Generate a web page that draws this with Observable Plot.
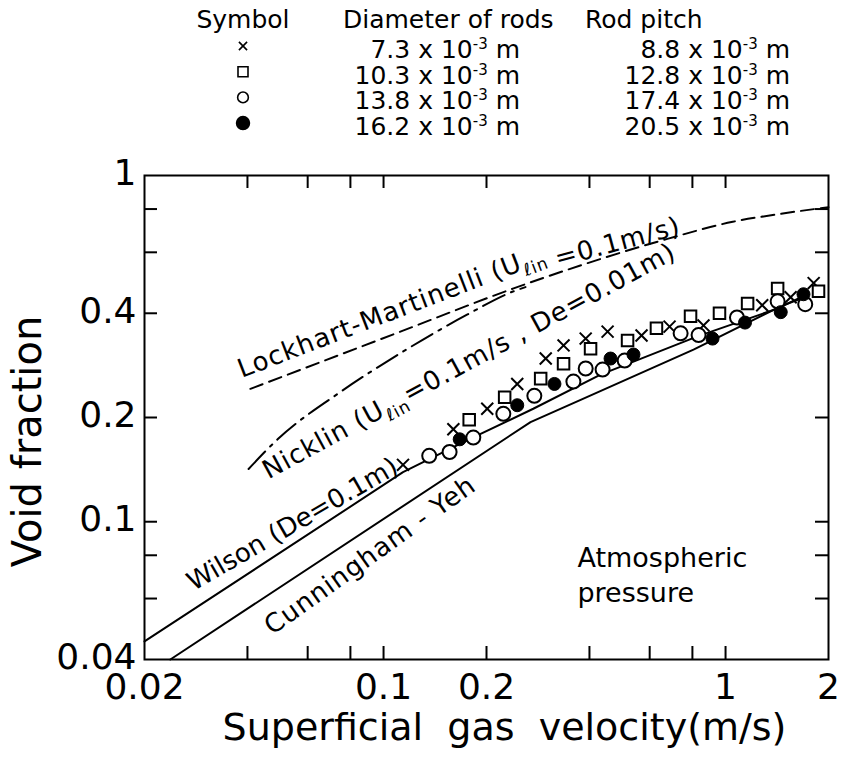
<!DOCTYPE html>
<html>
<head>
<meta charset="utf-8">
<script src="https://cdn.jsdelivr.net/npm/d3@7"></script>
<script src="https://cdn.jsdelivr.net/npm/@observablehq/plot@0.6"></script>
<style>
  body { margin: 0; background: #fff; font-family: "DejaVu Sans", sans-serif; }
  svg { display: block; }
</style>
</head>
<body>
<div id="chart"></div>
<script>
// ---------- data ----------
const xTickLabels = [0.02, 0.1, 0.2, 1, 2];
const xTickMarks = [0.04, 0.06, 0.08, 0.1, 0.2, 0.4, 0.6, 0.8, 1];
const yTickLabels = [0.04, 0.1, 0.2, 0.4, 1];
const yTickMarks = [0.06, 0.08, 0.1, 0.2, 0.4, 0.6, 0.8];

const legendHeaders = ["Symbol", "Diameter of rods", "Rod pitch"];
const rodDiameters = ["7.3", "10.3", "13.8", "16.2"];
const rodPitches = ["8.8", "12.8", "17.4", "20.5"];

// measured points [gas velocity m/s, void fraction]
const rods73 = [[0.114,0.146],[0.160,0.185],[0.201,0.212],[0.246,0.250],[0.298,0.296],[0.336,0.323],
  [0.390,0.338],[0.452,0.354],[0.568,0.345],[0.686,0.366],[0.862,0.369],[1.28,0.422],[1.55,0.445],[1.81,0.489]];
const rods103 = [[0.178,0.197],[0.226,0.229],[0.288,0.259],[0.336,0.286],[0.403,0.316],[0.517,0.334],
  [0.628,0.362],[0.790,0.392],[0.960,0.400],[1.16,0.427],[1.42,0.472],[1.87,0.463]];
const rods138 = [[0.136,0.155],[0.156,0.159],[0.183,0.175],[0.224,0.205],[0.276,0.231],[0.359,0.254],
  [0.390,0.277],[0.437,0.275],[0.507,0.292],[0.739,0.350],[0.834,0.346],[1.08,0.389],[1.42,0.433],[1.71,0.425]];
const rods162 = [[0.167,0.173],[0.246,0.217],[0.316,0.250],[0.461,0.296],[0.538,0.304],[0.916,0.338],
  [1.14,0.376],[1.45,0.403],[1.69,0.454]];

// correlations
const wilson = [[0.02,0.0451],[0.114,0.139],[0.176,0.172],[0.274,0.212],[0.431,0.266],[0.828,0.343],[1.42,0.413],[1.7,0.45]];
const cunninghamYeh = [[0.0238,0.04],[0.269,0.194],[0.377,0.225],[0.806,0.314],[1.45,0.419],[1.7,0.445]];
const lockhartMartinelli = [[0.0408,0.242],[0.112,0.354],[0.24,0.472],[0.431,0.574],[0.676,0.656],[1.05,0.735],[1.45,0.775],[2,0.81]];
const nicklin = [[0.0403,0.142],[0.049,0.173],[0.0748,0.237],[0.114,0.310],[0.176,0.397],[0.24,0.463],[0.26,0.476]];

const curveLabelTexts = ["Lockhart-Martinelli (U|ℓin|", "=0.1m/s)", "Nicklin (U|ℓin|=0.1m/s , De=0.01m)", "Wilson (De=0.1m)", "Cunningham - Yeh"];
const curveLabelX = [0.0385, 0.3226, 0.0461, 0.0278, 0.0473];
const curveLabelY = [0.26, 0.5438, 0.1324, 0.063, 0.0469];
const curveLabelAngle = [-21, -15, -28.5, -30, -35.5];

const noteLines = ["Atmospheric", "pressure"];
const noteX = [0.369, 0.369];
const noteY = [0.0786, 0.0622];

// ---------- legend ----------
const chart = document.getElementById("chart");
const leg = d3.create("svg").attr("width", 845).attr("height", 160)
  .style("font-family", "DejaVu Sans").style("font-size", "25px");
const headX = [243, 343, 585], headAnchor = ["middle", "start", "start"];
legendHeaders.forEach((h, i) => {
  leg.append("text").attr("x", headX[i]).attr("y", 28).attr("text-anchor", headAnchor[i]).text(h);
});
const symList = [d3.symbolTimes, d3.symbolSquare, d3.symbolCircle, d3.symbolCircle];
const symSize = [45, 100, 90, 130];
rodDiameters.forEach((d, i) => {
  const by = 58 + i * 25.7;
  leg.append("path").attr("transform", `translate(243,${by - 12})`)
    .attr("d", d3.symbol(symList[i], symSize[i])())
    .attr("fill", i === 3 ? "black" : "none").attr("stroke", "black").attr("stroke-width", 1.6);
  [[d, 520], [rodPitches[i], 790]].forEach(([v, x]) => {
    const t = leg.append("text").attr("x", x).attr("y", by).attr("text-anchor", "end");
    t.append("tspan").text(`${v} x 10`);
    t.append("tspan").attr("dy", -9).attr("font-size", "15px").text("-3");
    t.append("tspan").attr("dy", 9).text(" m");
  });
});
chart.appendChild(leg.node());

// ---------- plot ----------
const W = 845, H = 602, mT = 15, mB = 103, mL = 144, mR = 17;
const frameH = H - mT - mB, frameW = W - mL - mR, tickLen = 13;
const labels = curveLabelTexts.map((t, i) => ({t, x: curveLabelX[i], y: curveLabelY[i], a: curveLabelAngle[i]}));
const notes = noteLines.map((t, i) => ({t, x: noteX[i], y: noteY[i]}));
const px = d => d[0], py = d => d[1];

const plot = Plot.plot({
  width: W, height: H,
  marginTop: mT, marginBottom: mB, marginLeft: mL, marginRight: mR,
  style: {fontFamily: "DejaVu Sans", background: "white", color: "black", overflow: "visible"},
  x: {type: "log", domain: [0.02, 2], label: null},
  y: {type: "log", domain: [0.04, 1], label: null},
  marks: [
    Plot.tickX(xTickMarks, {x: d => d, insetTop: frameH - tickLen, strokeWidth: 2}),
    Plot.tickX(xTickMarks, {x: d => d, insetBottom: frameH - tickLen, strokeWidth: 2}),
    Plot.tickY(yTickMarks, {y: d => d, insetRight: frameW - tickLen, strokeWidth: 2}),
    Plot.tickY(yTickMarks, {y: d => d, insetLeft: frameW - tickLen, strokeWidth: 2}),
    Plot.frame({stroke: "black", strokeWidth: 2}),
    Plot.axisX(xTickLabels, {tickSize: 0, tickPadding: 14, fontSize: 36, tickFormat: d => String(d), label: null}),
    Plot.axisY(yTickLabels, {tickSize: 0, tickPadding: 8, dy: -2, fontSize: 36, tickFormat: d => String(d), label: null}),
    Plot.text(["Superficial\u00a0\u00a0gas\u00a0\u00a0velocity(m/s)"], {text: d => d, frameAnchor: "bottom", dy: 68, dx: 18, fontSize: 38, textAnchor: "middle", lineAnchor: "middle"}),
    Plot.text(["Void fraction"], {text: d => d, frameAnchor: "left", rotate: -90, dx: -116, dy: 24, fontSize: 40, textAnchor: "middle", lineAnchor: "middle"}),
    Plot.line(wilson, {x: px, y: py, stroke: "black", strokeWidth: 2}),
    Plot.line(cunninghamYeh, {x: px, y: py, stroke: "black", strokeWidth: 2}),
    Plot.line(lockhartMartinelli, {x: px, y: py, stroke: "black", strokeWidth: 2, strokeDasharray: "13,7", curve: "monotone-x"}),
    Plot.line(nicklin, {x: px, y: py, stroke: "black", strokeWidth: 2, strokeDasharray: "24,7,3,7", curve: "monotone-x"}),
    Plot.dot(rods73, {x: px, y: py, symbol: "times", r: 5.5, stroke: "black", strokeWidth: 2}),
    Plot.dot(rods103, {x: px, y: py, symbol: "square", r: 6.5, stroke: "black", fill: "white", strokeWidth: 2}),
    Plot.dot(rods138, {x: px, y: py, symbol: "circle", r: 7, stroke: "black", fill: "white", strokeWidth: 2}),
    Plot.dot(rods162, {x: px, y: py, symbol: "circle", r: 6.5, stroke: "black", fill: "black", strokeWidth: 1}),
    Plot.text(labels, {x: "x", y: "y", text: "t", rotate: "a", textAnchor: "start", lineAnchor: "bottom", fontSize: 26}),
    Plot.text(notes, {x: "x", y: "y", text: "t", textAnchor: "start", lineAnchor: "middle", fontSize: 27})
  ]
});

// letter spacing and subscripts for the curve labels
d3.select(plot).selectAll("text").each(function () {
  const s = this.textContent;
  if (!curveLabelTexts.includes(s)) return;
  const sel = d3.select(this).style("letter-spacing", s.startsWith("Wilson") ? "0px" : "1px");
  if (!s.includes("|")) return;
  const parts = s.split("|");
  sel.text(null);
  parts.forEach((p, i) => {
    if (p === "") return;
    const ts = sel.append("tspan").text(p);
    if (i % 2 === 1) ts.attr("font-size", "17px").attr("dy", 7);
    else if (i > 0) ts.attr("dy", -7);
  });
});
chart.appendChild(plot);
</script>
</body>
</html>
